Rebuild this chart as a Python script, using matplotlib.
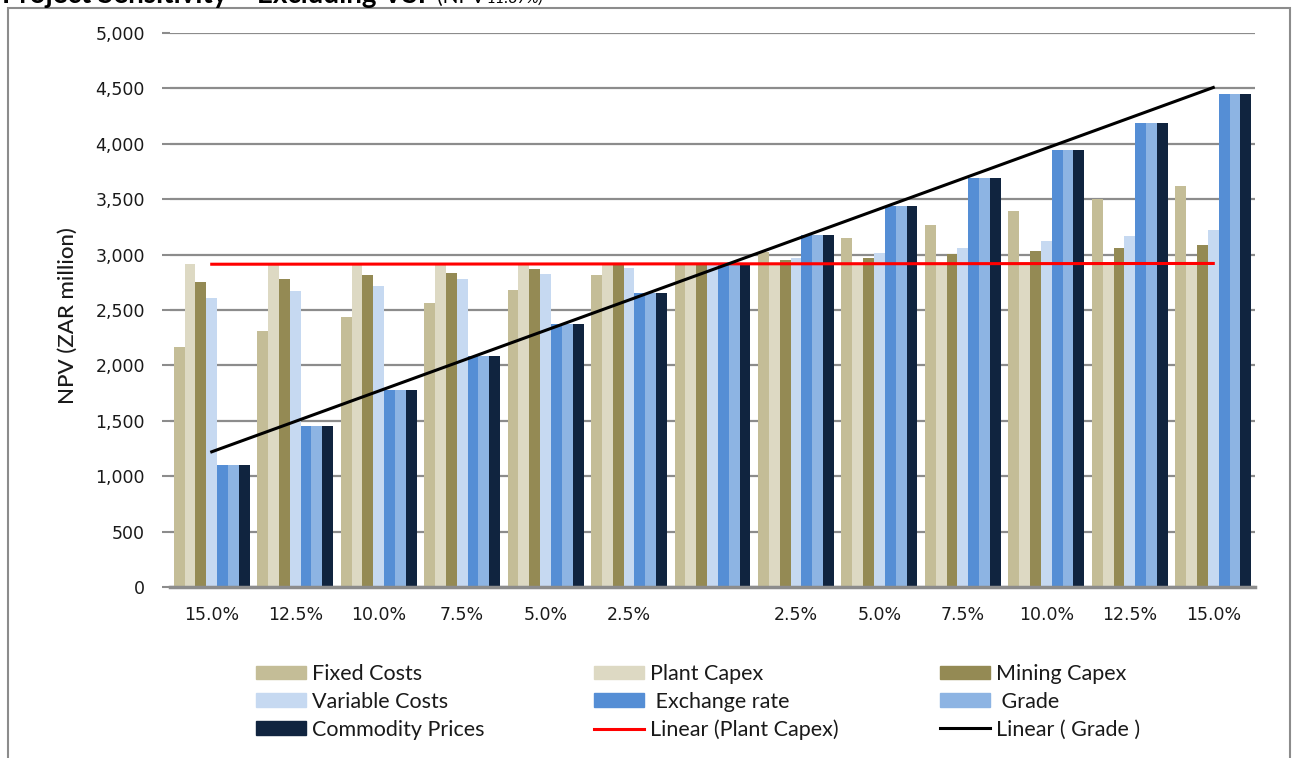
import numpy as np
import matplotlib
matplotlib.use("Agg")
import matplotlib.pyplot as plt
from matplotlib.patches import Patch, Rectangle
from matplotlib.lines import Line2D
from matplotlib.ticker import FuncFormatter

# ---------------- data ----------------
categories = ['15.0%', '12.5%', '10.0%', '7.5%', '5.0%', '2.5%', '',
              '2.5%', '5.0%', '7.5%', '10.0%', '12.5%', '15.0%']
fixed_costs = [2170, 2306, 2436, 2564, 2682, 2812, 2905, 3020, 3150, 3268, 3390, 3498, 3615]
plant_capex = [2915, 2915, 2915, 2915, 2915, 2915, 2905, 2920, 2920, 2920, 2920, 2920, 2920]
mining_capex = [2752, 2776, 2812, 2836, 2870, 2903, 2905, 2950, 2968, 3006, 3030, 3062, 3090]
variable_costs = [2612, 2673, 2718, 2776, 2821, 2882, 2905, 2970, 3015, 3063, 3120, 3165, 3222]
exchange_rate = [1097, 1455, 1780, 2085, 2376, 2657, 2905, 3177, 3436, 3690, 3944, 4186, 4447]
grade = [1097, 1455, 1780, 2085, 2376, 2657, 2905, 3177, 3436, 3690, 3944, 4186, 4447]
commodity_prices = [1097, 1455, 1780, 2085, 2376, 2657, 2905, 3177, 3436, 3690, 3944, 4186, 4447]
series_names = ['Fixed Costs', 'Plant Capex', 'Mining Capex', 'Variable Costs',
                ' Exchange rate', ' Grade', 'Commodity Prices']
yticks = list(range(0, 5001, 500))

series = [fixed_costs, plant_capex, mining_capex, variable_costs,
          exchange_rate, grade, commodity_prices]
colors = ['#C4BD97', '#DDD9C3', '#948A54', '#C6D9F1', '#558ED5', '#8DB4E3', '#10243F']

W, H = 1296, 758
fig = plt.figure(figsize=(W / 100, H / 100), dpi=100)
ax = fig.add_axes([170 / W, 1 - 587 / H, 1085 / W, 554 / H])

x = np.arange(len(categories))
bw = 0.13
for i, (vals, c, name) in enumerate(zip(series, colors, series_names)):
    ax.bar(x + (i - 3) * bw, vals, width=bw, color=c, label=name, zorder=2)

# linear trend lines
p1 = np.polyfit(x, plant_capex, 1)
p2 = np.polyfit(x, grade, 1)
ax.plot(x[[0, -1]], np.polyval(p1, x[[0, -1]]), color='#FF0000', lw=2.2, zorder=4)
ax.plot(x[[0, -1]], np.polyval(p2, x[[0, -1]]), color='#000000', lw=2.2, zorder=4)

ax.set_xlim(-0.5, len(categories) - 0.5)
ax.set_ylim(0, 5000)
ax.set_yticks(yticks)
ax.yaxis.set_major_formatter(FuncFormatter(lambda v, p: f"{int(v):,}"))
ax.set_xticks(x)
ax.set_xticklabels(categories)
ax.yaxis.grid(True, color='#8C8C8C', lw=1.6, zorder=0)
ax.set_axisbelow(True)
for s in ['top', 'right', 'left']:
    ax.spines[s].set_visible(False)
ax.spines['bottom'].set_color('#8C8C8C')
ax.spines['bottom'].set_linewidth(2.5)
ax.spines['bottom'].set_zorder(5)
ax.tick_params(axis='y', length=6, color='#8C8C8C', width=1.5, pad=12,
               labelsize=12.5, labelcolor='#1a1a1a')
ax.tick_params(axis='x', length=0, pad=14, labelsize=12.5, labelcolor='#1a1a1a')

fig.text(68 / W, 1 - 316 / H, 'NPV (ZAR million)', rotation=90, va='center', ha='center',
         fontsize=16, family='Lato', fontweight='medium', color='#1a1a1a')

# title (cut by top edge in original)
base_y = 1 - 2.5 / H
fig.text(2 / W, base_y, 'Project Sensitivity \u2013 Excluding VSF',
         fontsize=20, fontweight='bold', family='Lato', va='baseline', ha='left')
fig.text(437 / W, base_y, '(NPV', fontsize=15, family='Lato', va='baseline', ha='left')
fig.text(486 / W, base_y, '11.87%)', fontsize=11.5, style='italic', family='Lato',
         va='baseline', ha='left')

# legend in three columns
handles = [Patch(color=c) for c in colors]
handles += [Line2D([], [], color='#FF0000', lw=2.2), Line2D([], [], color='#000000', lw=2.2)]
labels = series_names + ['Linear (Plant Capex)', 'Linear ( Grade )']
cols = [[0, 3, 6], [1, 4, 7], [2, 5, 8]]
col_x = [256, 594, 940]
for cx, idx in zip(col_x, cols):
    leg = fig.legend([handles[i] for i in idx], [labels[i] for i in idx],
                     loc='upper left', bbox_to_anchor=(cx / W, 1 - 664 / H),
                     frameon=False, prop={'family': 'Lato', 'size': 15.5},
                     handlelength=2.3, handleheight=0.6, handletextpad=0.3,
                     labelspacing=0.36, borderpad=0, borderaxespad=0)
    for t in leg.get_texts():
        t.set_color('#1a1a1a')

fig.add_artist(Rectangle((8 / W, -0.02), (1290 - 8) / W, (758 - 8) / H + 0.02,
                         transform=fig.transFigure, fill=False, ec='#8C8C8C', lw=1.5))

fig.savefig('out.png', dpi=100)
